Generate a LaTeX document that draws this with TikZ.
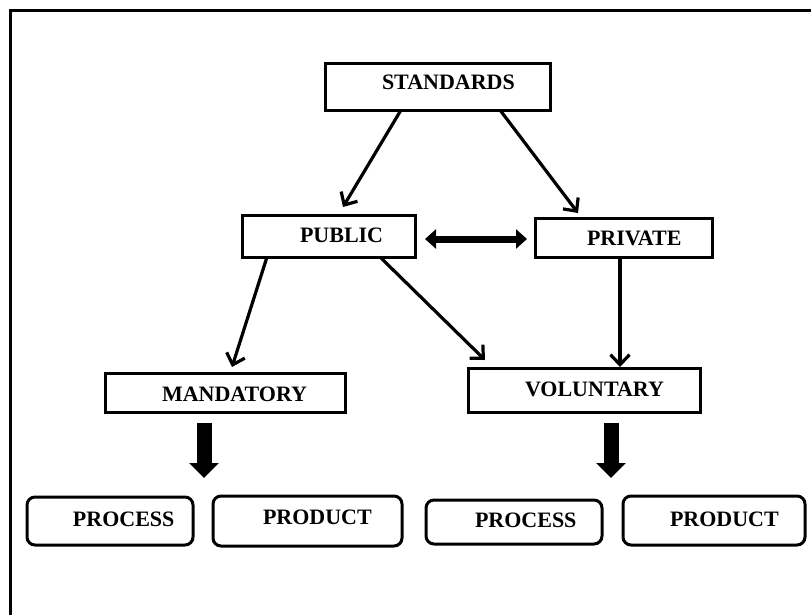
\documentclass[tikz,border=0pt]{standalone}
\usepackage{fontspec}
\setmainfont{Liberation Serif}
\usetikzlibrary{arrows.meta}
\newcommand\bxtext[3]{\makebox[0pt][l]{\hspace*{#1pt}\raisebox{\dimexpr#2pt-7.3pt\relax}[0pt][0pt]{#3}}}
\tikzset{
  fbox/.style={draw, line width=3pt, inner sep=0pt, outer sep=0pt, anchor=center},
  rbox/.style={fbox, rounded corners=8pt},
  thin arrow/.style={line width=3.2pt, -{Straight Barb[length=10pt,width=19pt]}},
  big arrow/.style={line width=15pt, -{Triangle[length=15pt,width=29pt]}},
  dbl arrow/.style={line width=7pt, {Triangle[length=11pt,width=19pt]}-{Triangle[length=11pt,width=19pt]}},
  lbl/.style={font=\fontsize{22}{26}\selectfont\bfseries, inner sep=0pt}
}
\begin{document}
\begin{tikzpicture}[x=1pt,y=-1pt]
\useasboundingbox (0,0) rectangle (811,614);
\fill[white] (0,0) rectangle (811,614);
\draw[line width=3pt] (10.5,620) -- (10.5,10.5) -- (820,10.5);
% boxes
\node[fbox, minimum width=225pt, minimum height=47pt] (std) at (437.5,86.5) {};
\node[fbox, minimum width=173pt, minimum height=42pt] (pub) at (328.5,236) {};
\node[fbox, minimum width=177pt, minimum height=39pt] (pri) at (623.5,237.5) {};
\node[fbox, minimum width=240pt, minimum height=39pt] (man) at (225,392.5) {};
\node[fbox, minimum width=232pt, minimum height=44pt] (vol) at (584,390) {};
\node[rbox, minimum width=166pt, minimum height=48pt] (pc1) at (110,521) {};
\node[rbox, minimum width=189pt, minimum height=50pt] (pd1) at (307.5,521) {};
\node[rbox, minimum width=176pt, minimum height=44pt] (pc2) at (514,522) {};
\node[rbox, minimum width=182pt, minimum height=49pt] (pd2) at (714,520.5) {};
% labels
\node[lbl] (tstd) at (std.west) {\bxtext{57}{4}{STANDARDS}};
\node[lbl] (tpub) at (pub.west) {\bxtext{58}{0.5}{PUBLIC}};
\node[lbl] (tpri) at (pri.west) {\bxtext{52}{-1}{PRIVATE}};
\node[lbl] (tman) at (man.west) {\bxtext{57}{-2}{MANDATORY}};
\node[lbl] (tvol) at (vol.west) {\bxtext{57}{0.5}{VOLUNTARY}};
\node[lbl] (tpc1) at (pc1.west) {\bxtext{46}{1.5}{PROCESS}};
\node[lbl] (tpd1) at (pd1.west) {\bxtext{50}{3.5}{PRODUCT}};
\node[lbl] (tpc2) at (pc2.west) {\bxtext{49}{1.5}{PROCESS}};
\node[lbl] (tpd2) at (pd2.west) {\bxtext{47}{1}{PRODUCT}};
% thin arrows
\draw[thin arrow] ([xshift=76pt]std.south west) -- ([xshift=101pt,yshift=8pt]pub.north west);
\draw[thin arrow] ([xshift=175pt]std.south west) -- ([xshift=43pt,yshift=5pt]pri.north west);
\draw[thin arrow] ([xshift=25pt]pub.south west) -- ([xshift=127pt,yshift=6pt]man.north west);
\draw[thin arrow] ([xshift=138pt]pub.south west) -- ([xshift=17pt,yshift=8pt]vol.north west);
\draw[thin arrow] ([xshift=-3.5pt]pri.south) -- ([xshift=152pt,yshift=1pt]vol.north west);
% double arrow
\draw[dbl arrow] ([xshift=10pt,yshift=-3pt]pub.east) -- ([xshift=-8pt,yshift=-1.5pt]pri.west);
% big arrows
\coordinate (ma1) at (204,423);
\coordinate (ma2) at (204,478);
\coordinate (va1) at (611,423);
\coordinate (va2) at (611,478);
\draw[big arrow] (ma1) -- (ma2);
\draw[big arrow] (va1) -- (va2);
\end{tikzpicture}
\end{document}
